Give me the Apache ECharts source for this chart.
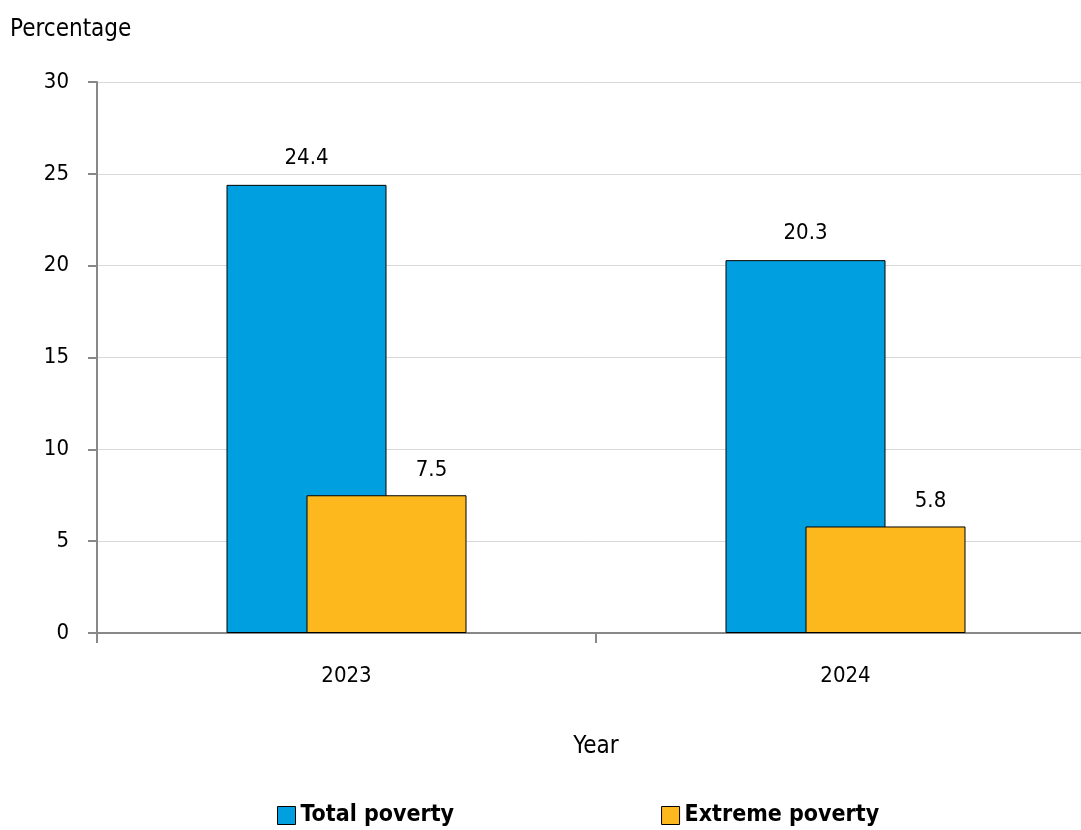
<!DOCTYPE html>
<html><head><meta charset="utf-8">
<script src="https://cdn.jsdelivr.net/npm/echarts@6/dist/echarts.min.js"></script>
<style>html,body{margin:0;padding:0;background:#fff}#c{width:1081px;height:830px}</style>
</head><body><div id="c"></div>
<script>
const categories = ['2023', '2024'];
const totalPoverty = [24.4, 20.3];
const extremePoverty = [7.5, 5.8];
const yTicks = [0, 5, 10, 15, 20, 25, 30];

const FONT = "'Liberation Sans Narrow', 'DejaVu Sans Condensed', 'Roboto', sans-serif";
const chart = echarts.init(document.getElementById('c'), null, {renderer: 'canvas'});
chart.setOption({
  animation: false,
  textStyle: {fontFamily: FONT},
  grid: {left: 97, width: 998, top: 82, bottom: 197, containLabel: false, outerBoundsMode: 'none'},
  legend: {
    left: 272, top: 799, itemGap: 207, itemWidth: 18, itemHeight: 18,
    textStyle: {fontFamily: FONT, fontSize: 23, fontWeight: 'bold', color: '#000'},
    icon: 'rect',
    itemStyle: {borderColor: '#000', borderWidth: 1},
    data: ['Total poverty', 'Extreme poverty']
  },
  xAxis: {
    type: 'category', data: categories,
    name: 'Year', nameLocation: 'middle', nameGap: 102,
    nameTextStyle: {fontFamily: FONT, fontSize: 24, color: '#000'},
    axisLine: {lineStyle: {color: '#888', width: 2}},
    axisTick: {show: true, length: 10, lineStyle: {color: '#888', width: 2}},
    axisLabel: {fontFamily: FONT, fontSize: 22, color: '#000', margin: 32}
  },
  yAxis: {
    type: 'value', min: 0, max: 30, interval: 5,
    name: 'Percentage', nameLocation: 'end', nameGap: 40,
    nameTextStyle: {fontFamily: FONT, fontSize: 24, color: '#000', align: 'left', padding: [0,0,0,-87]},
    axisLine: {show: true, lineStyle: {color: '#888', width: 2}},
    axisTick: {show: true, length: 9, lineStyle: {color: '#888', width: 2}},
    axisLabel: {fontFamily: FONT, fontSize: 22, color: '#000', margin: 28,
      formatter: v => yTicks.includes(v) ? String(v) : ''},
    splitLine: {lineStyle: {color: '#d9d9d9', width: 1}}
  },
  series: [
    {name: 'Total poverty', type: 'bar', data: totalPoverty, barWidth: 160, barGap: '-50%',
     itemStyle: {color: '#00A0E0', borderColor: '#000', borderWidth: 1},
     label: {show: true, position: 'top', distance: 16, fontFamily: FONT, fontSize: 22, color: '#000', formatter: p => p.value.toFixed(1)}},
    {name: 'Extreme poverty', type: 'bar', data: extremePoverty, barWidth: 160, barGap: '-50%',
     itemStyle: {color: '#FDB81E', borderColor: '#000', borderWidth: 1},
     label: {show: true, position: 'top', distance: 14, offset: [45, 0], fontFamily: FONT, fontSize: 22, color: '#000', formatter: p => p.value.toFixed(1)}}
  ]
});
</script></body></html>
